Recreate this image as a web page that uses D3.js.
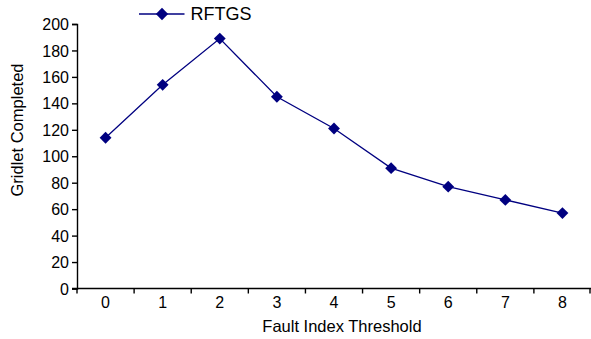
<!DOCTYPE html>
<html><head><meta charset="utf-8">
<script src="https://cdn.jsdelivr.net/npm/d3@7"></script>
<style>body{margin:0;background:#fff}svg{display:block}text{font-family:"Liberation Sans",Arial,sans-serif;fill:#000}</style>
</head><body><svg id="c" width="591" height="339"></svg>
<script>
const categories = ["0","1","2","3","4","5","6","7","8"];
const values = [114, 154, 189, 145, 121, 91, 77, 67, 57];
const yTicks = [0,20,40,60,80,100,120,140,160,180,200];
const seriesName = "RFTGS";
const color = "#000080";

const svg = d3.select("#c");
const L = 77, R = 591, T = 24, B = 288.5;
const x = d3.scaleBand().domain(categories).range([L, R]);
const y = d3.scaleLinear().domain([0, 200]).range([B, T]);

// y axis
const ya = svg.append("g").attr("transform", `translate(${L},0)`)
  .call(d3.axisLeft(y).tickValues(yTicks).tickSize(5).tickPadding(3));
ya.attr("font-size", null).attr("font-family", null);
ya.selectAll("text").attr("font-size", "16px").style("font-size", "16px").attr("dy", "0.35em");
ya.select(".domain").attr("stroke", "#000").attr("stroke-width", 1.4);
ya.selectAll(".tick line").attr("stroke", "#000").attr("stroke-width", 1.4);

// x axis with boundary ticks
const xa = svg.append("g").attr("transform", `translate(0,${B})`);
xa.append("line").attr("x1", L - 5).attr("x2", R).attr("stroke", "#000").attr("stroke-width", 1.4);
const bounds = categories.map(c => x(c)).concat([x(categories[categories.length-1]) + x.bandwidth() - 1]);
xa.selectAll("line.t").data(bounds).join("line").attr("class","t")
  .attr("x1", d => d).attr("x2", d => d).attr("y1", 0).attr("y2", 5)
  .attr("stroke", "#000").attr("stroke-width", 1.4);
xa.selectAll("text").data(categories).join("text")
  .attr("x", d => x(d) + x.bandwidth()/2).attr("y", 19.5)
  .attr("text-anchor", "middle").style("font-size", "16px").text(d => d);

// axis titles
svg.append("text").attr("x", 342).attr("y", 331.5).attr("text-anchor", "middle")
  .style("font-size", "16.5px").text("Fault Index Threshold");
svg.append("text").attr("transform", `translate(23,130) rotate(-90)`)
  .attr("text-anchor", "middle").style("font-size", "16.5px").text("Gridlet Completed");

// line
const cx = (d, i) => x(categories[i]) + x.bandwidth()/2;
const line = d3.line().x((d, i) => cx(d, i)).y(d => y(d));
svg.append("path").datum(values).attr("d", line).attr("fill", "none")
  .attr("stroke", color).attr("stroke-width", 1.3);
const diamond = d3.symbol().type(d3.symbolSquare).size(70);
svg.selectAll("path.m").data(values).join("path").attr("class", "m")
  .attr("d", diamond)
  .attr("transform", (d, i) => `translate(${cx(d, i)},${y(d)}) rotate(45)`)
  .attr("fill", color);

// legend
const lg = svg.append("g");
lg.append("line").attr("x1", 139).attr("x2", 184.5).attr("y1", 14).attr("y2", 14)
  .attr("stroke", color).attr("stroke-width", 1.3);
lg.append("path").attr("d", d3.symbol().type(d3.symbolSquare).size(76)).attr("transform", "translate(162,14) rotate(45)").attr("fill", color);
lg.append("text").attr("x", 190.5).attr("y", 20.3).style("font-size", "18px").text(seriesName);
</script></body></html>
